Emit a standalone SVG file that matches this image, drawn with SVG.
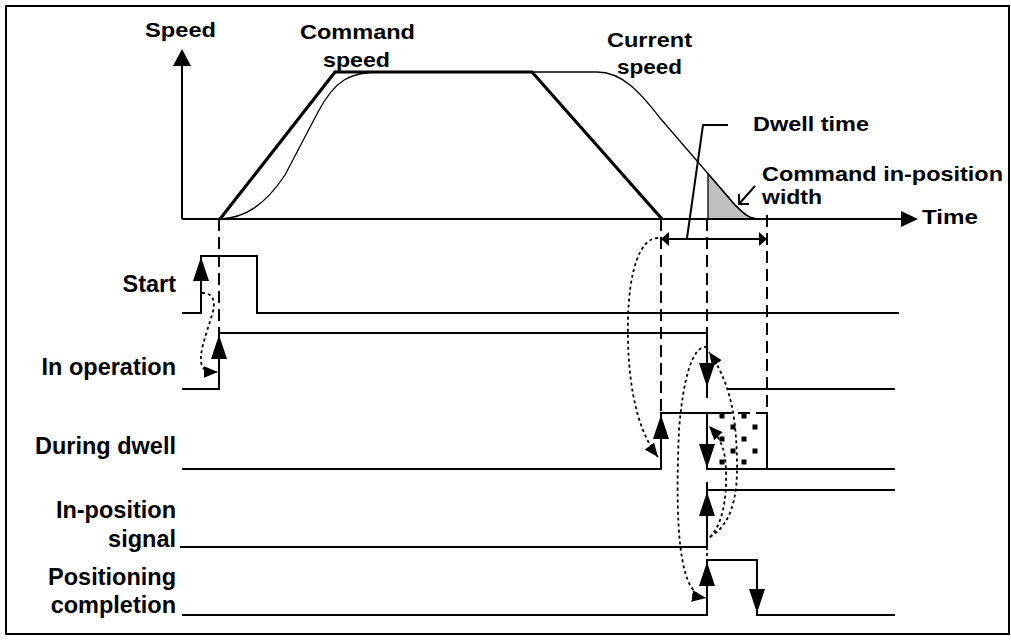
<svg xmlns="http://www.w3.org/2000/svg" width="1011" height="640" viewBox="0 0 1011 640">
<style>
text{font-family:"Liberation Sans",Arial,sans-serif;font-weight:bold;font-size:23.5px;fill:#000}
.top{font-size:21px}
.lbl{text-anchor:end}
.mid{text-anchor:middle}
.sig{fill:none;stroke:#000;stroke-width:2}
.dash{fill:none;stroke:#000;stroke-width:2;stroke-dasharray:12 6}
.dot{fill:none;stroke:#000;stroke-width:1.8;stroke-dasharray:3 3;marker-end:url(#dh)}
.dotn{fill:none;stroke:#000;stroke-width:1.8;stroke-dasharray:3 3}
.ah{fill:#000;stroke:none}
.sq{fill:#000}
</style>
<defs>
<marker id="dh" markerUnits="userSpaceOnUse" markerWidth="14" markerHeight="12" refX="12" refY="5" orient="auto" viewBox="0 0 12 10"><path d="M0,0 L12,5 L0,10 Z" fill="#000"/></marker>
<path id="up" d="M0,0 L8,24 L-8,24 Z"/>
<path id="dn" d="M0,0 L8,-24 L-8,-24 Z"/>
</defs>
<rect x="6" y="6" width="1003" height="628" fill="#fff" stroke="#000" stroke-width="2"/>

<g id="speed-graph">
<path d="M708,219 L708,173.7 L735,205 C745,215 750,219 760,219 Z" fill="#c0c0c0" stroke="#000" stroke-width="1.3"/>
<line x1="182" y1="65" x2="182" y2="219" class="sig"/>
<line x1="182" y1="219" x2="902" y2="219" class="sig"/>
<path class="ah" d="M182,49 L191,66 L173,66 Z"/>
<path class="ah" d="M918,219 L901,211 L901,227 Z"/>
<path d="M220,219 C245,218 265,205 285,175 L318,112 C335,80 350,72 380,72 L597,72 C622,72 640,92 660,118 L735,205 C745,215 750,219 760,219" fill="none" stroke="#000" stroke-width="1.3"/>
<polyline points="220,219 335,72 532,72 662,219" fill="none" stroke="#000" stroke-width="3.2" stroke-linejoin="miter"/>
<text x="180.5" y="37" class="mid top" textLength="71" lengthAdjust="spacingAndGlyphs">Speed</text>
<text x="357.5" y="39" class="mid top" textLength="115" lengthAdjust="spacingAndGlyphs">Command</text>
<text x="356.5" y="67" class="mid top" textLength="67" lengthAdjust="spacingAndGlyphs">speed</text>
<text x="649.5" y="47" class="mid top" textLength="85" lengthAdjust="spacingAndGlyphs">Current</text>
<text x="649.5" y="74" class="mid top" textLength="65" lengthAdjust="spacingAndGlyphs">speed</text>
<text x="922" y="224" class="top" textLength="56" lengthAdjust="spacingAndGlyphs">Time</text>
</g>

<g id="dwell-time">
<line x1="668" y1="239" x2="759" y2="239" class="sig"/>
<path class="ah" d="M661,239 L669,232 L669,246 Z"/>
<path class="ah" d="M767,239 L759,232 L759,246 Z"/>
<polyline points="687,238 703,125 728,125" class="sig" stroke-width="1.5"/>
<text x="753" y="131" class="top" textLength="116" lengthAdjust="spacingAndGlyphs">Dwell time</text>
</g>

<g id="inposition-width">
<polyline points="755,186 739,204" class="sig" stroke-width="1.5"/>
<polyline points="739,194 739,204 749,204" class="sig" stroke-width="1.5"/>
<text x="762" y="181" class="top" textLength="241" lengthAdjust="spacingAndGlyphs">Command in-position</text>
<text x="762" y="204" class="top" textLength="60" lengthAdjust="spacingAndGlyphs">width</text>
</g>

<g id="guides">
<line x1="219" y1="219" x2="219" y2="333" class="dash"/>
<line x1="661" y1="219" x2="661" y2="413" class="dash"/>
<line x1="707" y1="219" x2="707" y2="333" class="dash"/>
<line x1="767" y1="215" x2="767" y2="469" class="dash"/>
<line x1="707" y1="547" x2="707" y2="560" class="dotn"/>
</g>

<g id="sig-start">
<polyline points="182,313 201,313 201,256 257,256 257,313 899,313" class="sig"/>
<use href="#up" x="201" y="257" class="ah"/>
<text x="176" y="292" class="lbl">Start</text>
</g>

<g id="sig-inoperation">
<polyline points="182,389 219,389 219,333 707,333 707,398" class="sig"/>
<line x1="727" y1="389" x2="895" y2="389" class="sig"/>
<use href="#up" x="219" y="335" class="ah"/>
<use href="#dn" x="707" y="387" class="ah"/>
<text x="176" y="375" class="lbl">In operation</text>
</g>

<g id="sig-duringdwell">
<rect x="719.5" y="413.5" width="5" height="5" class="sq"/>
<rect x="741.5" y="413.5" width="5" height="5" class="sq"/>
<rect x="730.5" y="424.5" width="5" height="5" class="sq"/>
<rect x="752.5" y="424.5" width="5" height="5" class="sq"/>
<rect x="719.5" y="436.5" width="5" height="5" class="sq"/>
<rect x="741.5" y="436.5" width="5" height="5" class="sq"/>
<rect x="730.5" y="448.5" width="5" height="5" class="sq"/>
<rect x="752.5" y="448.5" width="5" height="5" class="sq"/>
<rect x="719.5" y="459.5" width="5" height="5" class="sq"/>
<rect x="741.5" y="459.5" width="5" height="5" class="sq"/>
<polyline points="182,469 661,469 661,413 720,413" class="sig"/>
<polyline points="720,413 767,413 767,469" class="dash"/>
<polyline points="707,413 707,469 895,469" class="sig"/>
<use href="#up" x="661" y="415" class="ah"/>
<use href="#dn" x="707" y="468" class="ah"/>
<text x="176" y="454" class="lbl">During dwell</text>
</g>

<g id="sig-inposition">
<polyline points="180,547 707,547 707,490 895,490" class="sig"/>
<line x1="707" y1="490" x2="707" y2="482" class="sig"/>
<use href="#up" x="707" y="492" class="ah"/>
<text x="176" y="518" class="lbl">In-position</text>
<text x="176" y="547" class="lbl">signal</text>
</g>

<g id="sig-positioning">
<polyline points="182,615 707,615 707,560 757,560 757,615 895,615" class="sig"/>
<use href="#up" x="707" y="562" class="ah"/>
<use href="#dn" x="757" y="613" class="ah"/>
<text x="176" y="585" class="lbl">Positioning</text>
<text x="176" y="613" class="lbl">completion</text>
</g>

<g id="connectors">
<path class="dot" d="M202,293 C214,293 216,302 212,315 C206,335 198,355 202,366 C204,370 208,372 218,372"/>
<path class="dot" d="M658,238 C640,238 629,270 628,320 C627,370 633,425 658,457"/>
<path class="dot" d="M710,537 C730,525 738,500 737,460 C736,420 732,385 709,352"/>
<path class="dot" d="M710,537 C722,525 727,500 726,470 C725,450 722,440 709,426"/>
<path class="dot" d="M707,347 C692,345 683,380 679,430 C676,500 677,560 690,585 C694,592 699,597 706,598"/>
</g>
</svg>
